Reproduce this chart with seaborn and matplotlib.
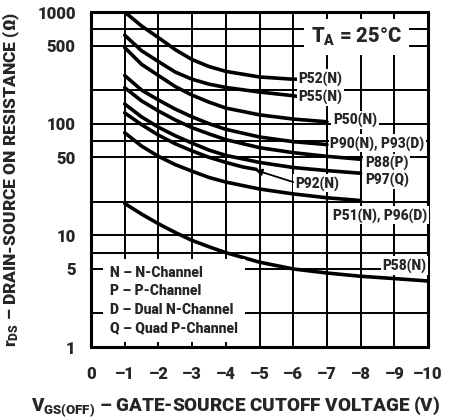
import pandas as pd
import matplotlib
matplotlib.use('Agg')
import matplotlib.pyplot as plt
import seaborn as sns

# readings (V_GS(off) in volts, r_DS in ohms)
p52_x = [-1, -1.5, -2, -2.5, -3, -3.5, -4, -5, -6, -6.1]
p52_y = [1000, 750, 590, 460, 375, 325, 294, 262, 250, 250]
p55_x = [-1, -1.5, -2, -2.5, -3, -3.5, -4, -5, -6, -6.1]
p55_y = [620, 450, 360, 290, 250, 226, 211, 192, 178, 176]
p50_x = [-1, -1.5, -2, -2.5, -3, -3.5, -4, -5, -6, -7]
p50_y = [480, 340, 270, 215, 180, 156, 138, 120, 110, 104]
p90_x = [-1, -1.5, -2, -2.5, -3, -3.5, -4, -5, -6, -7]
p90_y = [270, 200, 163, 135, 115, 100, 89, 76, 69, 65]
p88_x = [-1, -1.5, -2, -2.5, -3, -3.5, -4, -5, -6, -7, -8]
p88_y = [210, 160, 130, 108, 92, 81, 72, 61, 55, 51, 48]
p97_x = [-1, -1.5, -2, -2.5, -3, -3.5, -4, -5, -6, -7, -8]
p97_y = [150, 115, 93, 78, 67, 58, 52, 45, 40.5, 38, 36]
p92_x = [-1, -1.5, -2, -2.5, -3, -3.5, -4, -4.5, -4.9]
p92_y = [125, 98, 79, 66, 57, 50, 45, 41, 39]
p51_x = [-1, -1.5, -2, -2.5, -3, -3.5, -4, -5, -6, -7, -8]
p51_y = [83, 63, 51, 43, 37.5, 33, 30, 26, 23.5, 21.7, 20.5]
p58_x = [-1, -1.5, -2, -2.5, -3, -3.5, -4, -5, -6, -7, -8, -9, -10]
p58_y = [19.3, 15.5, 12.7, 10.6, 9.0, 7.9, 7.0, 5.75, 5.0, 4.6, 4.3, 4.1, 3.9]

curves = {
    'P52': (p52_x, p52_y), 'P55': (p55_x, p55_y), 'P50': (p50_x, p50_y),
    'P90': (p90_x, p90_y), 'P88': (p88_x, p88_y), 'P97': (p97_x, p97_y),
    'P92': (p92_x, p92_y), 'P51': (p51_x, p51_y), 'P58': (p58_x, p58_y),
}

# curve labels: text, x, y
labels = [
    ('P52(N)', -6.15, 254), ('P55(N)', -6.15, 175), ('P50(N)', -7.18, 108),
    ('P90(N), P93(D)', -7.1, 67), ('P88(P)', -8.13, 44.8), ('P97(Q)', -8.13, 31.3),
    ('P92(N)', -6.05, 29.3), ('P51(N), P96(D)', -7.18, 15.1), ('P58(N)', -8.64, 5.37),
]

x_ticks = list(range(0, -11, -1))
x_ticklabels = ['0'] + ['\u2013%d' % i for i in range(1, 11)]
y_ticks = [1, 2, 5, 7, 10, 20, 50, 70, 100, 200, 500, 700, 1000]
y_ticklabels = ['1', '', '5', '', '10', '', '50', '', '100', '', '500', '', '1000']

legend_lines = ['N \u2013 N-Channel', 'P \u2013 P-Channel',
                'D \u2013 Dual N-Channel', 'Q \u2013 Quad P-Channel']

df = pd.concat([pd.DataFrame({'vgs': xs, 'rds': ys, 'device': k})
                for k, (xs, ys) in curves.items()], ignore_index=True)

sns.set_style('white')
plt.rcParams['font.family'] = ['Roboto', 'DejaVu Sans']
plt.rcParams['font.weight'] = 'heavy'
plt.rcParams['axes.labelweight'] = 'heavy'
plt.rcParams['mathtext.fontset'] = 'custom'
plt.rcParams['mathtext.rm'] = 'Roboto:heavy'
plt.rcParams['mathtext.it'] = 'Roboto:heavy'
plt.rcParams['mathtext.bf'] = 'Roboto:heavy'

fig = plt.figure(figsize=(4.75, 4.2), dpi=100)
ax = fig.add_axes([0.1916, 0.1738, 0.7095, 0.7976])

sns.lineplot(data=df, x='vgs', y='rds', units='device', estimator=None,
             color='black', linewidth=2.6, ax=ax, zorder=3)

ax.set_yscale('log')
ax.set_xlim(0, -10)
ax.set_ylim(1, 1000)
ax.set_xticks(x_ticks)
ax.set_xticklabels(x_ticklabels)
ax.set_yticks(y_ticks)
ax.set_yticklabels(y_ticklabels)
ax.minorticks_off()
ax.grid(True, color='black', linewidth=1.4, zorder=1)
ax.set_axisbelow(True)
ax.tick_params(length=0, labelsize=12)
ax.tick_params(axis='x', pad=14)
ax.tick_params(axis='y', pad=11)
for s in ax.spines.values():
    s.set_linewidth(2.2)
    s.set_color('black')

box = dict(facecolor='white', edgecolor='none', pad=1.2)
for txt, lx, ly in labels:
    ax.text(lx, ly, txt, fontsize=9.8, ha='left', va='center', bbox=box, zorder=4)

ax.annotate('', xy=(-4.87, 38.5), xytext=(-6.0, 30),
            arrowprops=dict(arrowstyle='-|>', color='black', lw=1.3,
                            mutation_scale=10, shrinkA=0, shrinkB=0), zorder=4)

ax.text(-7.87, 596, r'T$_\mathrm{A}$ = 25°C', fontsize=14.5, ha='center', va='center',
        bbox=dict(facecolor='white', edgecolor='none', pad=5), zorder=4)

ax.text(-0.56, 2.6, '\n'.join(legend_lines), fontsize=10, ha='left', va='center',
        linespacing=1.4, bbox=dict(facecolor='white', edgecolor='none', pad=5), zorder=4)

ax.set_xlabel('V$_\\mathrm{GS(OFF)}$ \u2013 GATE-SOURCE CUTOFF VOLTAGE (V)', fontsize=13.6)
ax.set_ylabel('r$_\\mathrm{DS}$ \u2013 DRAIN-SOURCE ON RESISTANCE (\u03a9)', fontsize=12.5)
ax.xaxis.set_label_coords(0.43, -0.142)
ax.yaxis.set_label_coords(-0.205, 0.5)

fig.savefig('out.png', dpi=100)
